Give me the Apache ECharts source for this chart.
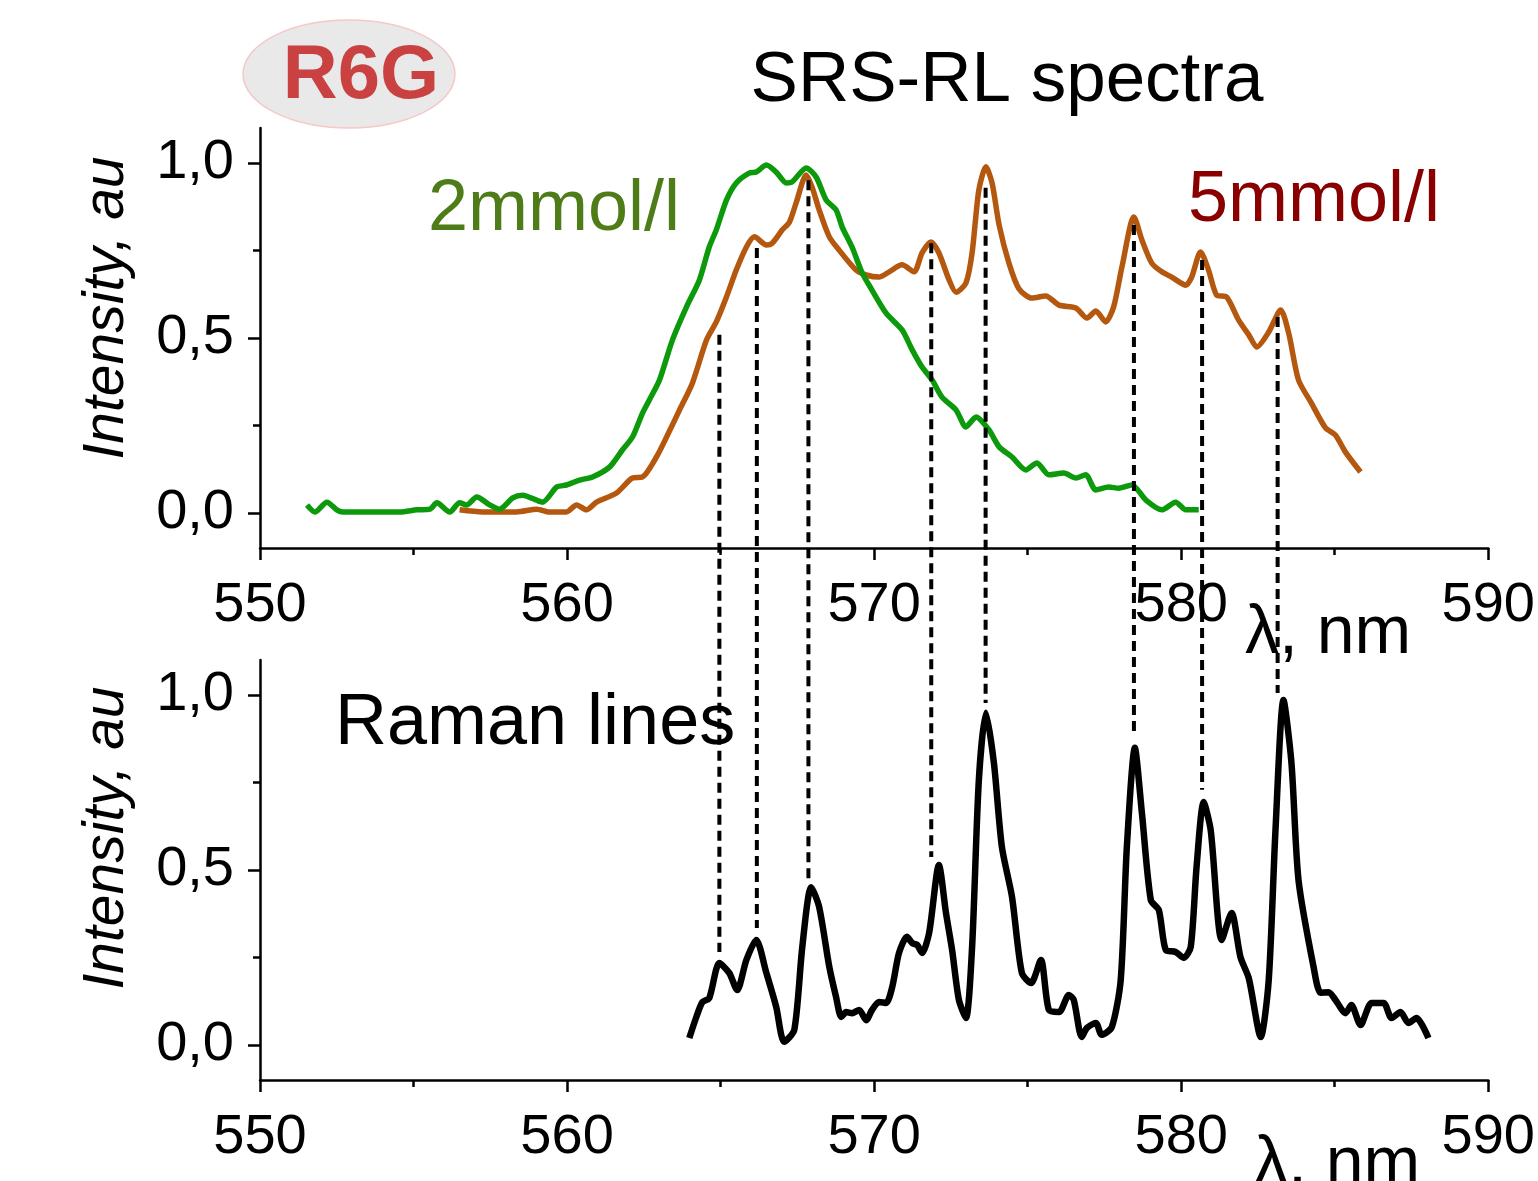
<!DOCTYPE html>
<html>
<head>
<meta charset="utf-8">
<script src="https://cdn.jsdelivr.net/npm/echarts@6/dist/echarts.min.js"></script>
<style>
html,body{margin:0;padding:0;background:#fff;}
#chart{width:1538px;height:1181px;}
</style>
</head>
<body>
<div id="chart"></div>
<script>
// ---- data (wavelength in nm, normalized intensity) ----
const greenX = [551.53,551.79,552.18,552.50,552.70,554.55,555.11,555.53,555.76,556.18,556.50,556.73,557.06,557.48,557.80,558.23,558.55,559.20,559.66,559.98,560.41,560.83,561.38,561.80,562.13,562.46,562.68,563.01,563.43,563.89,564.31,564.63,564.86,565.19,565.51,565.93,566.16,566.49,566.81,567.14,567.33,567.79,568.11,568.44,568.76,568.96,569.28,569.61,569.93,570.39,570.91,571.24,571.56,571.89,572.21,572.67,572.99,573.32,573.74,574.07,574.49,574.94,575.30,575.69,576.18,576.57,576.89,577.22,577.64,577.97,578.39,578.85,579.37,579.82,580.15,580.57];
const greenY = [0.023,0.003,0.031,0.009,0.003,0.003,0.009,0.011,0.029,0.003,0.029,0.023,0.046,0.023,0.011,0.043,0.051,0.031,0.074,0.080,0.094,0.103,0.131,0.180,0.217,0.286,0.323,0.380,0.494,0.589,0.666,0.760,0.809,0.894,0.943,0.971,0.974,0.994,0.974,0.943,0.946,0.986,0.960,0.894,0.866,0.817,0.760,0.686,0.637,0.571,0.523,0.466,0.417,0.380,0.331,0.294,0.246,0.274,0.237,0.189,0.160,0.123,0.143,0.109,0.114,0.100,0.109,0.066,0.074,0.071,0.080,0.037,0.009,0.031,0.009,0.009];

const orangeX = [556.50,557.25,557.80,558.36,559.01,559.43,559.98,560.31,560.63,560.96,561.61,562.13,562.46,562.91,563.24,563.66,564.08,564.54,564.86,565.19,565.51,565.84,566.10,566.49,566.68,567.01,567.24,567.46,567.79,567.98,568.21,568.54,568.86,569.41,569.74,570.16,570.49,570.91,571.30,571.56,571.85,572.11,572.44,572.67,572.99,573.19,573.41,573.64,573.84,574.07,574.39,574.72,575.14,575.59,576.02,576.57,576.93,577.22,577.54,577.80,578.07,578.46,578.72,579.04,579.37,579.69,580.15,580.34,580.63,580.89,581.15,581.48,581.87,582.20,582.46,582.85,583.24,583.50,583.82,584.24,584.70,585.02,585.35,585.84];
const orangeY = [0.009,0.003,0.003,0.003,0.011,0.003,0.003,0.023,0.009,0.031,0.057,0.100,0.103,0.160,0.217,0.294,0.371,0.494,0.546,0.617,0.694,0.760,0.789,0.766,0.771,0.809,0.831,0.886,0.966,0.931,0.866,0.789,0.751,0.694,0.680,0.674,0.689,0.709,0.689,0.743,0.774,0.743,0.666,0.631,0.657,0.743,0.923,0.989,0.943,0.823,0.714,0.640,0.614,0.620,0.594,0.586,0.557,0.577,0.546,0.589,0.703,0.846,0.780,0.714,0.689,0.674,0.651,0.674,0.746,0.694,0.623,0.617,0.551,0.509,0.474,0.517,0.580,0.514,0.380,0.314,0.243,0.223,0.174,0.117];

const ramanX = [563.98,564.21,564.41,564.63,564.96,565.28,565.54,565.84,566.16,566.49,566.81,567.07,567.40,567.66,567.95,568.21,568.54,568.76,568.93,569.09,569.28,569.51,569.74,569.93,570.16,570.39,570.59,570.81,571.07,571.24,571.40,571.56,571.79,572.11,572.34,572.54,572.76,572.99,573.19,573.41,573.64,573.90,574.16,574.49,574.81,575.11,575.43,575.69,576.02,576.34,576.50,576.76,576.93,577.22,577.41,577.74,578.03,578.23,578.49,578.72,579.01,579.27,579.50,579.82,580.08,580.31,580.50,580.73,580.96,581.32,581.64,581.93,582.20,582.59,582.85,583.07,583.33,583.59,583.82,584.31,584.54,584.80,585.02,585.35,585.54,585.84,586.20,586.59,586.85,587.14,587.40,587.66,588.05];
const ramanY = [0.020,0.080,0.123,0.134,0.234,0.206,0.157,0.243,0.300,0.206,0.109,0.009,0.043,0.280,0.451,0.394,0.223,0.137,0.080,0.094,0.091,0.100,0.071,0.100,0.123,0.120,0.166,0.263,0.309,0.291,0.286,0.263,0.320,0.514,0.377,0.271,0.129,0.077,0.280,0.757,0.949,0.806,0.566,0.423,0.206,0.177,0.243,0.100,0.094,0.143,0.129,0.023,0.049,0.063,0.029,0.051,0.186,0.566,0.849,0.663,0.414,0.386,0.271,0.266,0.249,0.280,0.509,0.694,0.614,0.300,0.377,0.251,0.191,0.023,0.186,0.614,0.986,0.806,0.471,0.223,0.149,0.151,0.129,0.091,0.114,0.057,0.120,0.120,0.077,0.094,0.063,0.077,0.020];

// connector (dashed) lines: wavelength, top-panel end, bottom-panel end
const linkX    = [564.96, 566.18, 567.86, 571.86, 573.63, 578.46, 580.68, 583.14];
const linkTopY = [0.509, 0.757, 0.951, 0.771, 0.929, 0.823, 0.723, 0.560];
const linkBotY = [0.266, 0.334, 0.471, 0.537, 0.977, 0.894, 0.729, 1.006];

const yMajorTicks = [0, 0.5, 1.0];
const yMinorTicks = [0.25, 0.75];

const FONT = "'Liberation Sans', Arial, sans-serif";
const zip = (a, b) => a.map((v, i) => [v, b[i]]);
const fmtY = v => v.toFixed(1).replace('.', ',');

const chart = echarts.init(document.getElementById('chart'));

function xAxisDef(gi) {
  return {
    gridIndex: gi, type: 'value', min: 550, max: 590, interval: 10,
    axisLine: { show: true, onZero: false, lineStyle: { color: '#000', width: 2.5 } },
    axisTick: { show: true, length: 12, lineStyle: { color: '#000', width: 2.5 } },
    minorTick: { show: true, splitNumber: 2, length: 7, lineStyle: { color: '#000', width: 2.5 } },
    splitLine: { show: false }, minorSplitLine: { show: false },
    axisLabel: { fontSize: 56, color: '#000', fontFamily: FONT, margin: 30 }
  };
}
function yMajorDef(gi) {
  return {
    gridIndex: gi, type: 'value', position: 'left', min: -0.1, max: 1.1,
    axisLine: { show: true, onZero: false, lineStyle: { color: '#000', width: 2.5 } },
    axisTick: { show: true, length: 12, customValues: yMajorTicks, lineStyle: { color: '#000', width: 2.5 } },
    splitLine: { show: false },
    axisLabel: { show: true, customValues: yMajorTicks, formatter: fmtY, fontSize: 56, color: '#000', fontFamily: FONT, margin: 26 }
  };
}
function yMinorDef(gi) {
  return {
    gridIndex: gi, type: 'value', position: 'left', offset: 0, min: -0.1, max: 1.1,
    axisLine: { show: false, onZero: false },
    axisTick: { show: true, length: 7, customValues: yMinorTicks, lineStyle: { color: '#000', width: 2.5 } },
    splitLine: { show: false },
    axisLabel: { show: false }
  };
}

chart.setOption({
  backgroundColor: '#fff',
  animation: false,
  grid: [
    { left: 260, top: 128, width: 1230, height: 420 },
    { left: 260, top: 660, width: 1230, height: 420 }
  ],
  xAxis: [xAxisDef(0), xAxisDef(1)],
  yAxis: [yMajorDef(0), yMinorDef(0), yMajorDef(1), yMinorDef(1)],
  series: [
    { name: '2mmol/l', type: 'line', xAxisIndex: 0, yAxisIndex: 0, data: zip(greenX, greenY),
      showSymbol: false, smooth: 0.25, lineStyle: { color: '#0c9a0c', width: 5.5 }, z: 3 },
    { name: '5mmol/l', type: 'line', xAxisIndex: 0, yAxisIndex: 0, data: zip(orangeX, orangeY),
      showSymbol: false, smooth: 0.25, lineStyle: { color: '#b5580f', width: 5.5 }, z: 2 },
    { name: 'Raman lines', type: 'line', xAxisIndex: 1, yAxisIndex: 2, data: zip(ramanX, ramanY),
      showSymbol: false, smooth: 0.25, lineStyle: { color: '#000', width: 6.5 }, z: 3 }
  ]
});

const graphics = [];
// connector dashed lines through both panels
linkX.forEach((x, i) => {
  const p1 = chart.convertToPixel({ gridIndex: 0 }, [x, linkTopY[i]]);
  const p2 = chart.convertToPixel({ gridIndex: 1 }, [x, linkBotY[i]]);
  graphics.push({
    type: 'line', z: 100,
    shape: { x1: p1[0], y1: p1[1], x2: p2[0], y2: p2[1] },
    style: { stroke: '#000', lineWidth: 4, lineDash: [10, 6] }
  });
});

function txt(text, x, y, size, color, extra) {
  return Object.assign({
    type: 'text', z: 110, x: x, y: y,
    style: Object.assign({ text: text, x: 0, y: 0, fill: color, fontSize: size, fontFamily: FONT,
      textAlign: 'left', textVerticalAlign: 'middle' }, extra || {})
  });
}

graphics.push({
  type: 'ellipse', z: 90,
  shape: { cx: 349, cy: 74, rx: 106, ry: 54 },
  style: { fill: '#e9e9e9', stroke: '#f6c8c8', lineWidth: 1.5 }
});
graphics.push(txt('R6G', 361, 77, 76, '#c94141', { textAlign: 'center', fontWeight: 'bold' }));
graphics.push(txt('SRS-RL spectra', 1007, 81, 71, '#000', { textAlign: 'center' }));
graphics.push(txt('2mmol/l', 428, 210, 72, '#4e7c18'));
graphics.push(txt('5mmol/l', 1188, 201, 72, '#8a0000'));
graphics.push(txt('Raman lines', 335, 724, 72, '#000'));
graphics.push(txt('λ, nm', 1245, 634, 68, '#000'));
graphics.push(txt('λ, nm', 1254, 1165, 68, '#000'));
graphics.push(Object.assign(txt('Intensity, au', 107, 308, 57, '#000', { textAlign: 'center', fontStyle: 'italic' }), { rotation: Math.PI / 2 }));
graphics.push(Object.assign(txt('Intensity, au', 107, 838, 57, '#000', { textAlign: 'center', fontStyle: 'italic' }), { rotation: Math.PI / 2 }));

chart.setOption({ graphic: graphics });
</script>
</body>
</html>
